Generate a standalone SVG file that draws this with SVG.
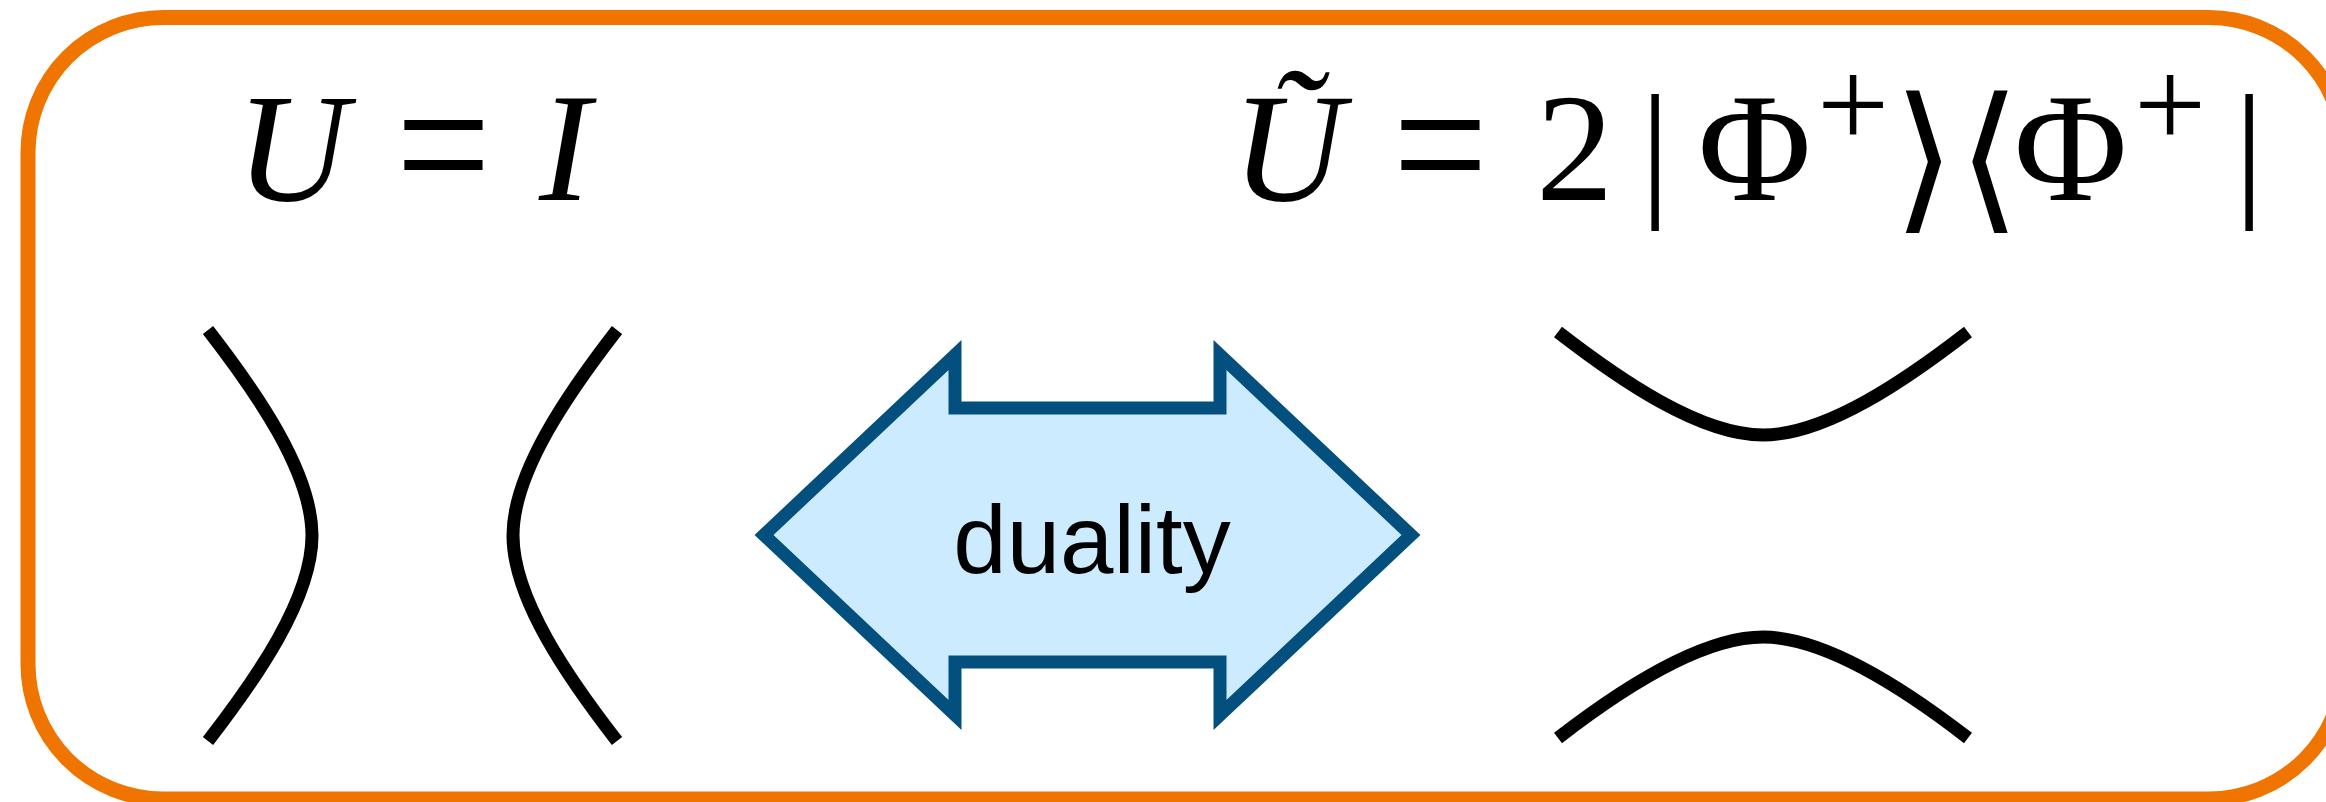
<svg xmlns="http://www.w3.org/2000/svg" width="2326" height="802" viewBox="0 0 2326 802">
<style>
.serif{font-family:"Liberation Serif","Times New Roman",serif;fill:#000}
.it{font-style:italic}
.br{font-family:"DejaVu Sans","DejaVu Serif",sans-serif;font-weight:200}
.curve{fill:none;stroke:#000;stroke-width:13;stroke-linecap:butt}
.arrow{fill:#cdebfe;stroke:#03507f;stroke-width:13;stroke-linejoin:miter;stroke-miterlimit:10}
.label{font-family:"Liberation Sans",Arial,sans-serif;font-size:96px;fill:#000}
</style>
<rect id="frame" x="28" y="17.5" width="2316" height="781.5" rx="135" ry="135" fill="#fff" stroke="#f07400" stroke-width="15"/>
<g id="formula-left">
<text class="serif it" x="236" y="200" font-size="155">U</text>
<text class="serif" transform="translate(396,212) scale(0.832,1)" font-size="202">=</text>
<text class="serif it" x="539" y="200" font-size="155">I</text>
</g>
<g id="formula-right">
<text class="serif it" x="1232" y="200" font-size="155">Ũ</text>
<text class="serif" transform="translate(1393,212) scale(0.832,1)" font-size="202">=</text>
<text class="serif" font-size="155"><tspan x="1536" y="200">2</tspan><tspan x="1640" y="199" font-size="151">|</tspan><tspan x="1698" y="200">Φ</tspan><tspan x="1817" y="147" font-size="128">+</tspan><tspan class="br" x="1893" y="212" font-size="160">⟩</tspan><tspan class="br" x="1958" y="212" font-size="160">⟨</tspan><tspan x="2014" y="200">Φ</tspan><tspan x="2134" y="147" font-size="128">+</tspan><tspan x="2234" y="199" font-size="151">|</tspan></text>
</g>
<g id="curves-left">
<path class="curve" d="M208 330 C256 392 312 472 312 535.5 C312 599 256 679 208 741"/>
<path class="curve" d="M617 330 C569 392 513 472 513 535.5 C513 599 569 679 617 741"/>
</g>
<g id="connectors">
<g id="duality">
<polygon class="arrow" points="764,535 955,355 955,408 1220,408 1220,355 1411,535 1220,715 1220,662 955,662 955,715"/>
<text class="label" x="1092" y="573" text-anchor="middle">duality</text>
</g>
</g>
<g id="curves-right">
<path class="curve" d="M1558 332 C1620 380 1700 435 1763 435 C1826 435 1906 380 1968 332"/>
<path class="curve" d="M1558 738 C1620 690 1700 637 1763 637 C1826 637 1906 690 1968 738"/>
</g>
</svg>
